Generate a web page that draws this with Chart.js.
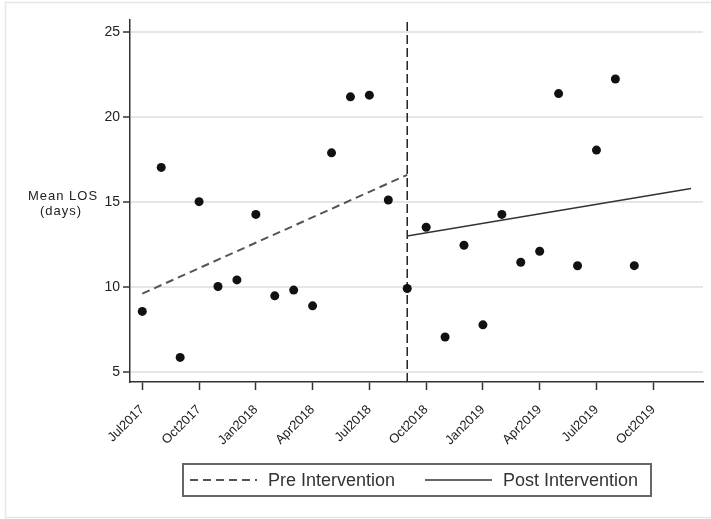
<!DOCTYPE html>
<html>
<head>
<meta charset="utf-8">
<title>Mean LOS</title>
<script src="https://cdn.jsdelivr.net/npm/chart.js@4.4.1/dist/chart.umd.min.js"></script>
<style>
  html, body { margin: 0; padding: 0; background: #fff; }
  canvas { display: block; }
</style>
</head>
<body>
<canvas id="losChart" width="711" height="519"></canvas>
<script>
// month index 0 = Jul2017
const months = ['Jul2017', 'Aug2017', 'Sep2017', 'Oct2017', 'Nov2017', 'Dec2017',
    'Jan2018', 'Feb2018', 'Mar2018', 'Apr2018', 'May2018', 'Jun2018', 'Jul2018',
    'Aug2018', 'Sep2018', 'Oct2018', 'Nov2018', 'Dec2018', 'Jan2019', 'Feb2019',
    'Mar2019', 'Apr2019', 'May2019', 'Jun2019', 'Jul2019', 'Aug2019', 'Sep2019'];
const meanLos = [8.55, 17.04, 5.84, 15.02, 10.02, 10.41, 14.27, 9.47, 9.81, 8.88,
    17.9, 21.2, 21.3, 15.12, 9.9, 13.51, 7.04, 12.45, 7.76, 14.27, 11.45, 12.1,
    21.39, 11.24, 18.06, 22.25, 11.25];

const tickMonths = [0, 3, 6, 9, 12, 15, 18, 21, 24, 27];
const tickLabels = ['Jul2017', 'Oct2017', 'Jan2018', 'Apr2018', 'Jul2018',
    'Oct2018', 'Jan2019', 'Apr2019', 'Jul2019', 'Oct2019'];
const yTicks = [5, 10, 15, 20, 25];

const interventionMonth = 14;
const preTrendMonths = [0, 14];
const preTrend = [9.6, 16.6];
const postTrendMonths = [14, 29];
const postTrend = [13.0, 15.8];

const xMin = -0.65, xMax = 29.63;
const yMin = 4.39, yMax = 25.73;

const FONT = '"Liberation Sans", Arial, sans-serif';

function toPoints(xs, ys) {
    return xs.map((x, i) => ({ x: x, y: ys[i] }));
}

// frame, y title and boxed legend
const decorations = {
    id: 'decorations',
    beforeDraw(chart) {
        const ctx = chart.ctx;
        ctx.save();
        ctx.fillStyle = '#ffffff';
        ctx.fillRect(0, 0, chart.width, chart.height);
        ctx.strokeStyle = '#e6e6e6';
        ctx.lineWidth = 1.5;
        ctx.strokeRect(5.5, 2.5, chart.width + 10, chart.height - 4);
        ctx.restore();
    },
    afterDraw(chart) {
        const ctx = chart.ctx;
        ctx.save();

        ctx.fillStyle = '#222';
        ctx.font = '13px ' + FONT;
        ctx.letterSpacing = '1px';
        ctx.textAlign = 'center';
        ctx.textBaseline = 'middle';
        ctx.fillText('Mean LOS', 63, 196);
        ctx.fillText('(days)', 61, 211);
        ctx.letterSpacing = '0px';

        const items = chart.data.datasets.filter(d => d.inLegend);
        ctx.strokeStyle = '#666';
        ctx.lineWidth = 2;
        ctx.strokeRect(183, 464, 468, 32);

        const cy = 480;
        items.forEach((ds, i) => {
            const x0 = 190 + i * 235;
            ctx.strokeStyle = ds.borderColor;
            ctx.lineWidth = ds.borderWidth;
            ctx.setLineDash(ds.borderDash || []);
            ctx.beginPath();
            ctx.moveTo(x0, cy);
            ctx.lineTo(x0 + 67, cy);
            ctx.stroke();
            ctx.setLineDash([]);

            ctx.fillStyle = '#333';
            ctx.font = '18px ' + FONT;
            ctx.textAlign = 'left';
            ctx.fillText(ds.label, x0 + 78, cy + 1);
        });
        ctx.restore();
    }
};

const ctx = document.getElementById('losChart').getContext('2d');

new Chart(ctx, {
    type: 'scatter',
    data: {
        datasets: [
            {
                label: 'Mean LOS',
                data: toPoints(months.map((_, i) => i), meanLos),
                pointRadius: 4.5,
                pointBackgroundColor: '#111',
                pointBorderWidth: 0,
                order: 0
            },
            {
                label: 'Pre Intervention',
                inLegend: true,
                data: toPoints(preTrendMonths, preTrend),
                showLine: true,
                pointRadius: 0,
                borderColor: '#555',
                borderWidth: 2,
                borderDash: [8, 5],
                order: 1
            },
            {
                label: 'Post Intervention',
                inLegend: true,
                data: toPoints(postTrendMonths, postTrend),
                showLine: true,
                pointRadius: 0,
                borderColor: '#333',
                borderWidth: 1.5,
                order: 1
            },
            {
                label: 'Intervention',
                data: toPoints([interventionMonth, interventionMonth], [yMin, yMax]),
                showLine: true,
                pointRadius: 0,
                borderColor: '#222',
                borderWidth: 1.5,
                borderDash: [9, 4],
                order: 2
            }
        ]
    },
    options: {
        responsive: false,
        animation: false,
        layout: { padding: { top: 20, right: 8, left: 0, bottom: 0 } },
        plugins: {
            legend: { display: false },
            tooltip: { enabled: false }
        },
        scales: {
            x: {
                type: 'linear',
                min: xMin,
                max: xMax,
                afterBuildTicks: scale => {
                    scale.ticks = tickMonths.map(v => ({ value: v }));
                },
                afterFit: scale => { scale.height = 137; },
                border: { display: true, color: '#333', width: 1.5 },
                grid: {
                    drawOnChartArea: false,
                    drawTicks: true,
                    tickLength: 8,
                    tickColor: '#333',
                    tickWidth: 1.5
                },
                ticks: {
                    autoSkip: false,
                    minRotation: 45,
                    maxRotation: 45,
                    padding: 12,
                    color: '#222',
                    font: { family: FONT, size: 13 },
                    callback: value => tickLabels[tickMonths.indexOf(value)]
                }
            },
            y: {
                min: yMin,
                max: yMax,
                afterBuildTicks: scale => {
                    scale.ticks = yTicks.map(v => ({ value: v }));
                },
                afterFit: scale => { scale.width = 130; },
                border: { display: true, color: '#333', width: 1.5 },
                grid: {
                    color: '#e6e6e6',
                    lineWidth: 2,
                    drawTicks: true,
                    tickLength: 7,
                    tickColor: '#333',
                    tickWidth: 1.5
                },
                ticks: {
                    padding: 3,
                    color: '#222',
                    font: { family: FONT, size: 14 }
                }
            }
        }
    },
    plugins: [decorations]
});
</script>
</body>
</html>
